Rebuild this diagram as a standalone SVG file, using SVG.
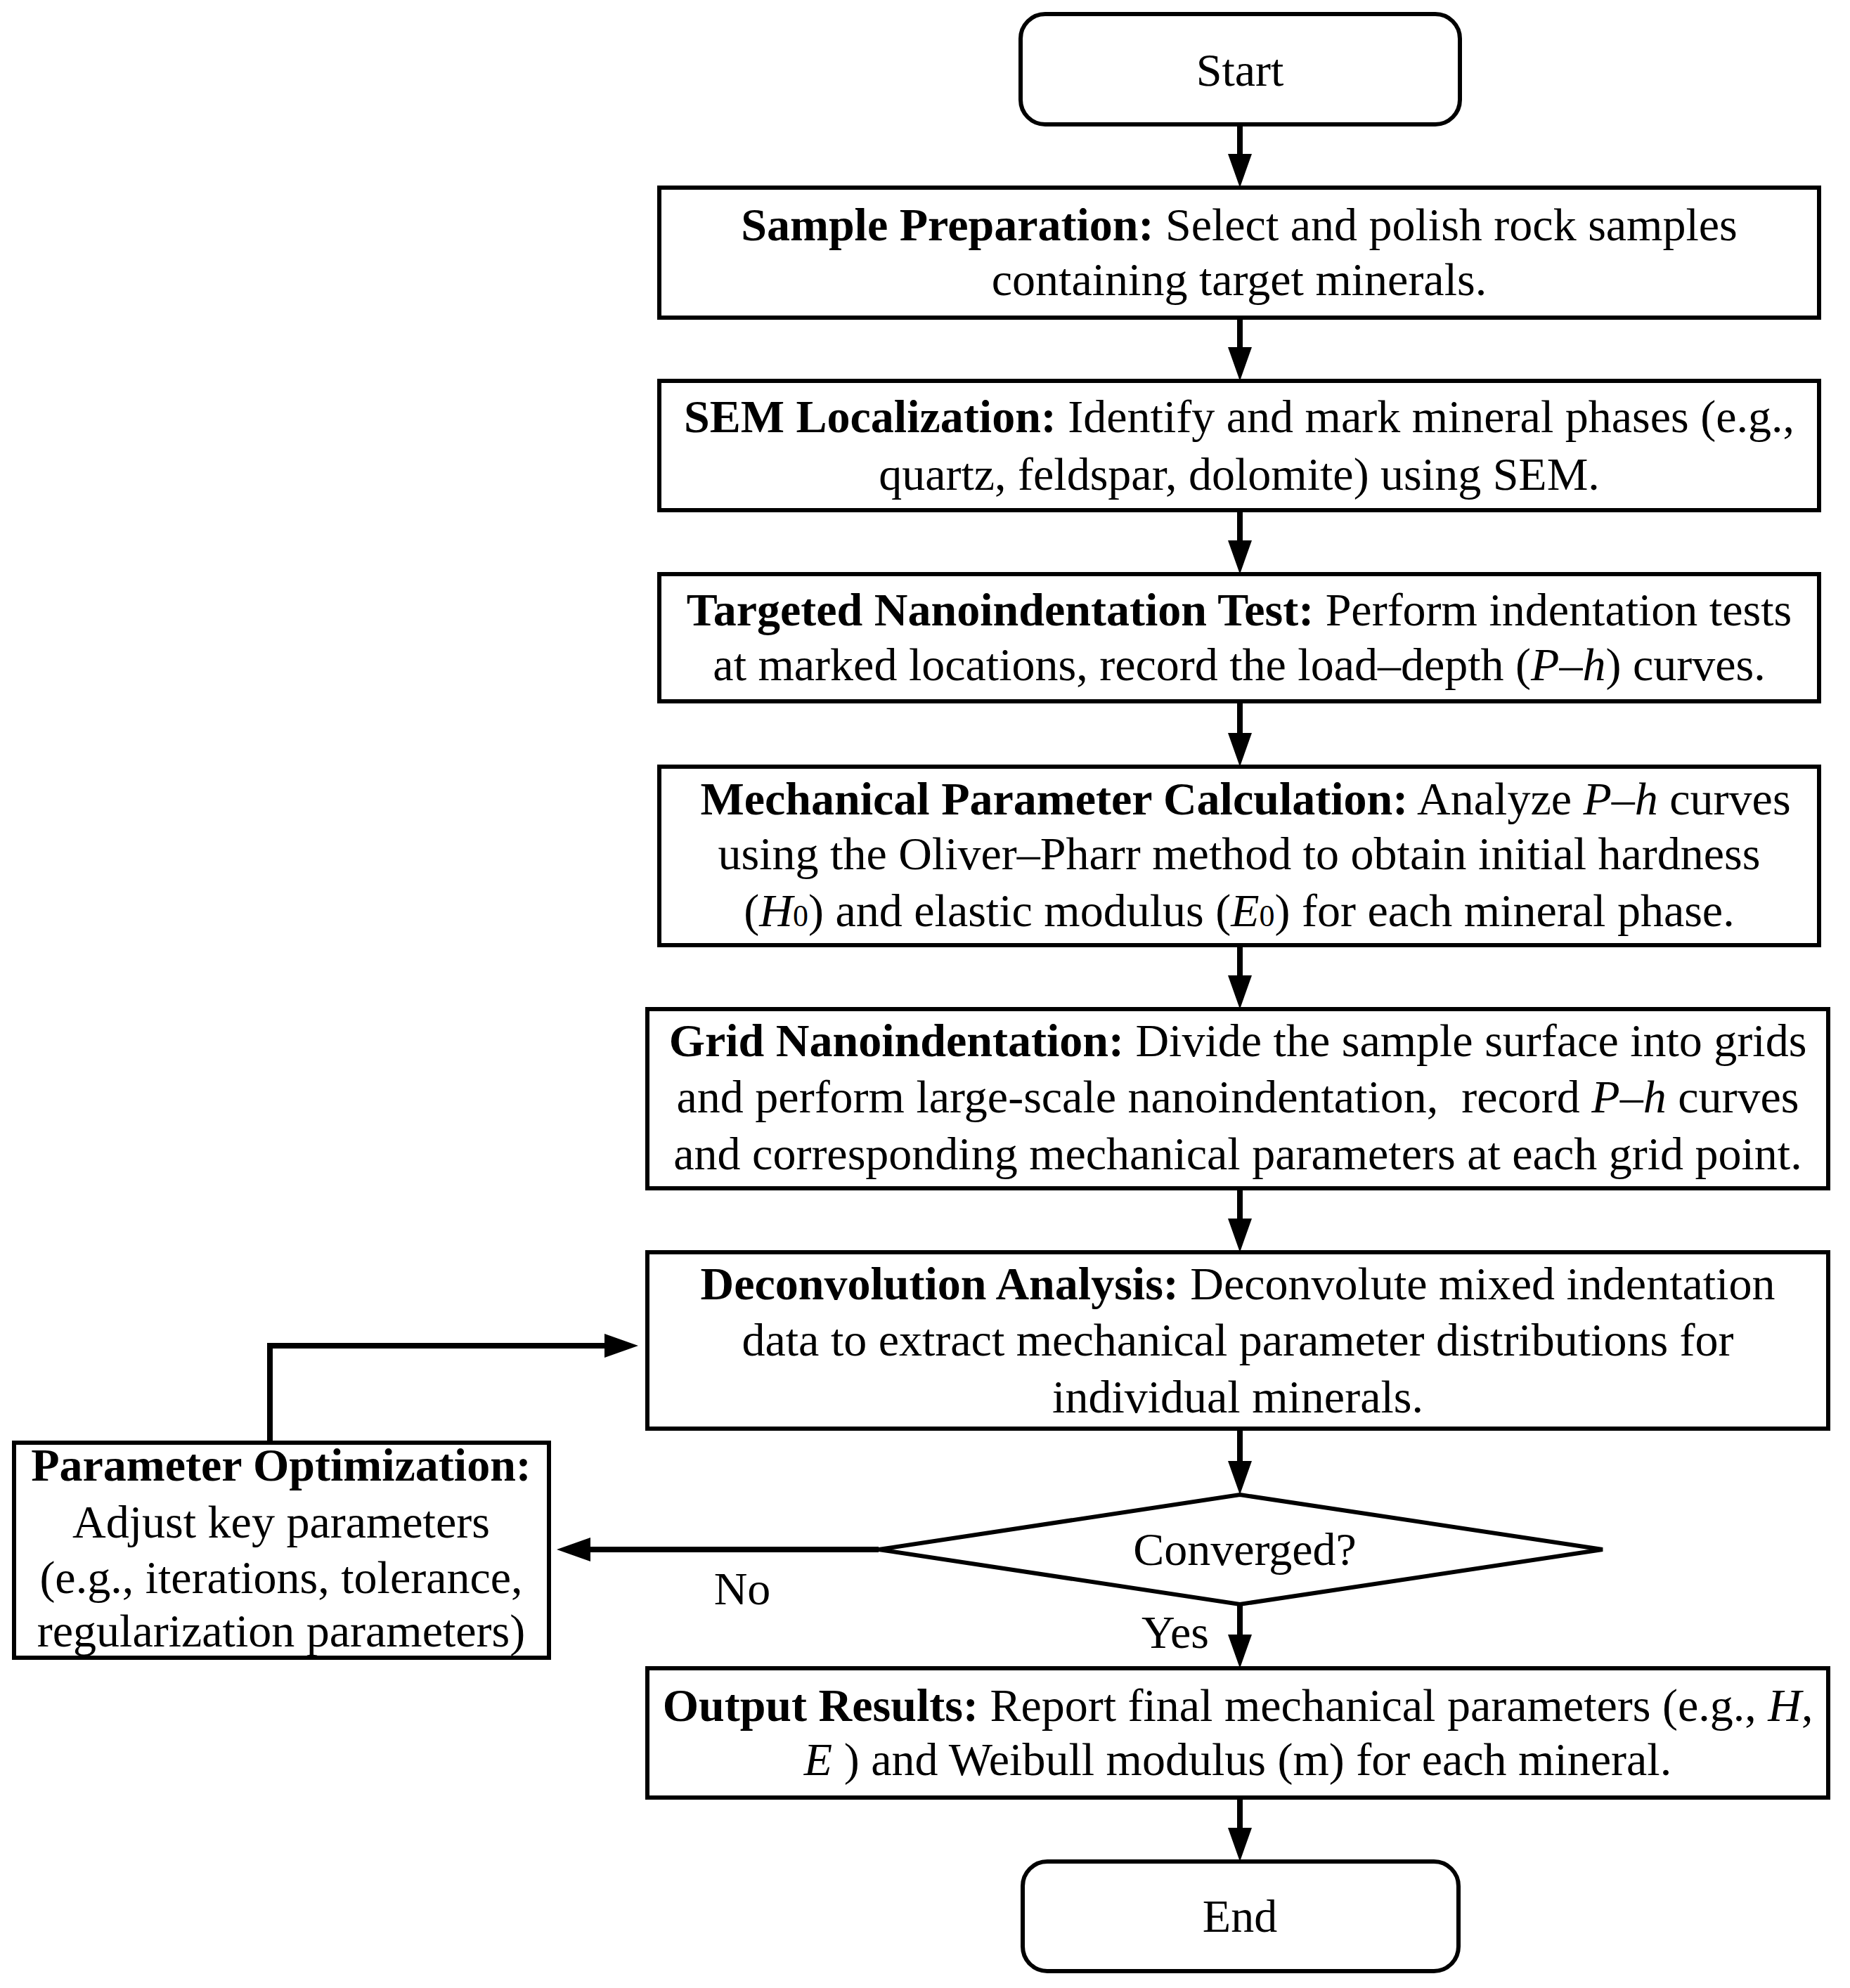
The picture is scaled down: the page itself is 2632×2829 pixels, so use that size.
<svg xmlns="http://www.w3.org/2000/svg" width="2632" height="2829" viewBox="0 0 2632 2829">
<style>
.box{fill:#fff;stroke:#000;stroke-width:6}
.t{font-family:"Liberation Serif","Times New Roman",serif;font-size:66px;fill:#000;text-anchor:middle}
.b{font-weight:bold}
.i{font-style:italic}
.sub{font-size:44px}
.c{fill:none;stroke:#000;stroke-width:8}
</style>
<defs>
<marker id="ah" markerUnits="userSpaceOnUse" markerWidth="50" markerHeight="34" refX="0" refY="17" orient="auto" overflow="visible">
<path d="M0,0 L48,17 L0,34 z" fill="#000"/>
</marker>
</defs>
<rect width="2632" height="2829" fill="#fff"/>
<g id="connectors">
<line class="c" x1="1764" y1="177" x2="1764" y2="219" marker-end="url(#ah)"/>
<line class="c" x1="1764" y1="452" x2="1764" y2="494" marker-end="url(#ah)"/>
<line class="c" x1="1764" y1="726" x2="1764" y2="769" marker-end="url(#ah)"/>
<line class="c" x1="1764" y1="998" x2="1764" y2="1043" marker-end="url(#ah)"/>
<line class="c" x1="1764" y1="1345" x2="1764" y2="1388" marker-end="url(#ah)"/>
<line class="c" x1="1764" y1="1691" x2="1764" y2="1734" marker-end="url(#ah)"/>
<line class="c" x1="1764" y1="2033" x2="1764" y2="2079" marker-end="url(#ah)"/>
<line class="c" x1="1764" y1="2283" x2="1764" y2="2326" marker-end="url(#ah)"/>
<line class="c" x1="1764" y1="2558" x2="1764" y2="2601" marker-end="url(#ah)"/>
<line class="c" x1="1250" y1="2205" x2="840" y2="2205" marker-end="url(#ah)"/>
<polyline class="c" points="384,2053 384,1915 860,1915" marker-end="url(#ah)"/>
<text class="t" x="1056" y="2283">No</text>
<text class="t" x="1672" y="2345">Yes</text>
</g>
<g id="start">
<rect class="box" x="1452" y="20" width="625" height="157" rx="35"/>
<text class="t" x="1764" y="122">Start</text>
</g>
<g id="sample-preparation">
<rect class="box" x="938" y="267" width="1650" height="185"/>
<text class="t" x="1763" y="342"><tspan class="b">Sample Preparation:</tspan> Select and polish rock samples</text>
<text class="t" x="1763" y="420">containing target minerals.</text>
</g>
<g id="sem-localization">
<rect class="box" x="938" y="542" width="1650" height="184"/>
<text class="t" x="1763" y="615"><tspan class="b">SEM Localization:</tspan> Identify and mark mineral phases (e.g.,</text>
<text class="t" x="1763" y="697">quartz, feldspar, dolomite) using SEM.</text>
</g>
<g id="targeted-nanoindentation">
<rect class="box" x="938" y="817" width="1650" height="181"/>
<text class="t" x="1763" y="890"><tspan class="b">Targeted Nanoindentation Test:</tspan> Perform indentation tests</text>
<text class="t" x="1763" y="968">at marked locations, record the load–depth (<tspan class="i">P</tspan>–<tspan class="i">h</tspan>) curves.</text>
</g>
<g id="mechanical-parameter">
<rect class="box" x="938" y="1091" width="1650" height="254"/>
<text class="t" x="1772" y="1159"><tspan class="b">Mechanical Parameter Calculation:</tspan> Analyze <tspan class="i">P</tspan>–<tspan class="i">h</tspan> curves</text>
<text class="t" x="1763" y="1237">using the Oliver–Pharr method to obtain initial hardness</text>
<text class="t" x="1763" y="1318">(<tspan class="i">H</tspan><tspan class="sub">0</tspan>) and elastic modulus (<tspan class="i">E</tspan><tspan class="sub">0</tspan>) for each mineral phase.</text>
</g>
<g id="grid-nanoindentation">
<rect class="box" x="921" y="1436" width="1680" height="255"/>
<text class="t" x="1761" y="1503"><tspan class="b">Grid Nanoindentation:</tspan> Divide the sample surface into grids</text>
<text class="t" x="1761" y="1583">and perform large-scale nanoindentation,&#160; record <tspan class="i">P</tspan>–<tspan class="i">h</tspan> curves</text>
<text class="t" x="1761" y="1664">and corresponding mechanical parameters at each grid point.</text>
</g>
<g id="deconvolution">
<rect class="box" x="921" y="1782" width="1680" height="251"/>
<text class="t" x="1761" y="1849"><tspan class="b">Deconvolution Analysis:</tspan> Deconvolute mixed indentation</text>
<text class="t" x="1761" y="1929">data to extract mechanical parameter distributions for</text>
<text class="t" x="1761" y="2010">individual minerals.</text>
</g>
<g id="converged">
<polygon class="box" points="1764,2127 2280,2205 1764,2283 1250,2205"/>
<text class="t" x="1771" y="2227">Converged?</text>
</g>
<g id="parameter-optimization">
<rect class="box" x="20" y="2053" width="761" height="306"/>
<text class="t b" x="400" y="2107">Parameter Optimization:</text>
<text class="t" x="400" y="2188">Adjust key parameters</text>
<text class="t" x="400" y="2267">(e.g., iterations, tolerance,</text>
<text class="t" x="400" y="2343">regularization parameters)</text>
</g>
<g id="output-results">
<rect class="box" x="921" y="2374" width="1680" height="184"/>
<text class="t" x="1761" y="2449"><tspan class="b">Output Results:</tspan> Report final mechanical parameters (e.g., <tspan class="i">H</tspan>,</text>
<text class="t" x="1761" y="2526"><tspan class="i">E</tspan> ) and Weibull modulus (m) for each mineral.</text>
</g>
<g id="end">
<rect class="box" x="1455" y="2649" width="620" height="156" rx="35"/>
<text class="t" x="1764" y="2749" fill="#222">End</text>
</g>
</svg>
